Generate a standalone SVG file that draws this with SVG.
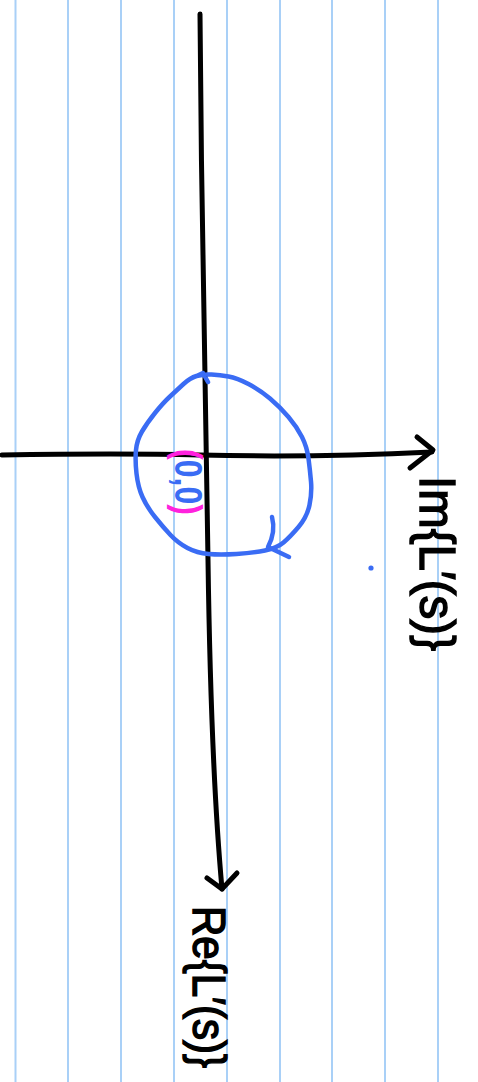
<svg xmlns="http://www.w3.org/2000/svg" width="478" height="1082" viewBox="0 0 478 1082">
<style>
.rule{stroke:#a9d0f7;stroke-width:2;fill:none}
.ink{stroke:#000;stroke-width:5;fill:none;stroke-linecap:round;stroke-linejoin:round}
.blue{stroke:#3a6cf4;stroke-width:4.5;fill:none;stroke-linecap:round;stroke-linejoin:round}
.lbl{font-family:"Liberation Sans",Arial,sans-serif;fill:#000;stroke:#000;stroke-width:1.5}
.org{font-family:"Liberation Sans",Arial,sans-serif;fill:#3a6cf4;font-weight:bold}
.mag{fill:#ff22dd}
</style>
<rect width="478" height="1082" fill="#fff"/>
<g id="paper">
<line class="rule" x1="15.5" y1="0" x2="15.5" y2="1082"/>
<line class="rule" x1="68" y1="0" x2="68" y2="1082"/>
<line class="rule" x1="121" y1="0" x2="121" y2="1082"/>
<line class="rule" x1="174" y1="0" x2="174" y2="1082"/>
<line class="rule" x1="227" y1="0" x2="227" y2="1082"/>
<line class="rule" x1="280" y1="0" x2="280" y2="1082"/>
<line class="rule" x1="332" y1="0" x2="332" y2="1082"/>
<line class="rule" x1="385" y1="0" x2="385" y2="1082"/>
<line class="rule" x1="438" y1="0" x2="438" y2="1082"/>
</g>
<g id="connectors">
<path id="re-axis" class="ink" d="M200,14 C201,200 206,400 208,560 C210,700 214,800 222,889"/>
<path class="ink" d="M207,878 L222,889 L237,873"/>
<path id="im-axis" class="ink" d="M2,455 C60,454 120,453 200,455 C280,457 350,456 432,452"/>
<path class="ink" d="M417,437 L433,450 L410,468"/>
</g>
<g id="contour">
<path class="blue" d="M196.5,376 Q203,374 211.5,374.5 Q220,375 228.5,376.5 Q237,378 248.5,384 Q260,390 270,398.5 Q280,407 288.5,417 Q297,427 302,437 Q307,447 308.5,458.5 Q310,470 311,481.5 Q312,493 309.5,505 Q307,517 298.5,527 Q290,537 283.5,542.5 Q277,548 265,550.5 Q253,553 236.5,554 Q220,555 208.5,554 Q197,553 187.5,548 Q178,543 170.5,535 Q163,527 155,517 Q147,507 142.5,497 Q138,487 136.5,473.5 Q135,460 136,450 Q137,440 142,431.5 Q147,423 155,413 Q163,403 170,396.5 Q177,390 183.5,384 Q190,378 196.5,376 L203,373 L208,382"/>
<path class="blue" d="M272,517 Q276,532 268,547 L289,557"/>
<circle cx="371" cy="568" r="2.6" fill="#3a6cf4"/>
</g>
<g id="origin-label">
<text class="org" transform="translate(175,449) rotate(90)" font-size="38" textLength="66" lengthAdjust="spacingAndGlyphs"><tspan class="mag">(</tspan>0,0<tspan class="mag">)</tspan></text>
</g>
<g id="im-label">
<text class="lbl" transform="translate(420,476) rotate(90)" font-size="50" textLength="175" lengthAdjust="spacingAndGlyphs">Im{L′(s)}</text>
</g>
<g id="re-label">
<text class="lbl" transform="translate(193,906) rotate(90)" font-size="46" textLength="162" lengthAdjust="spacingAndGlyphs">Re{L′(s)}</text>
</g>
</svg>
